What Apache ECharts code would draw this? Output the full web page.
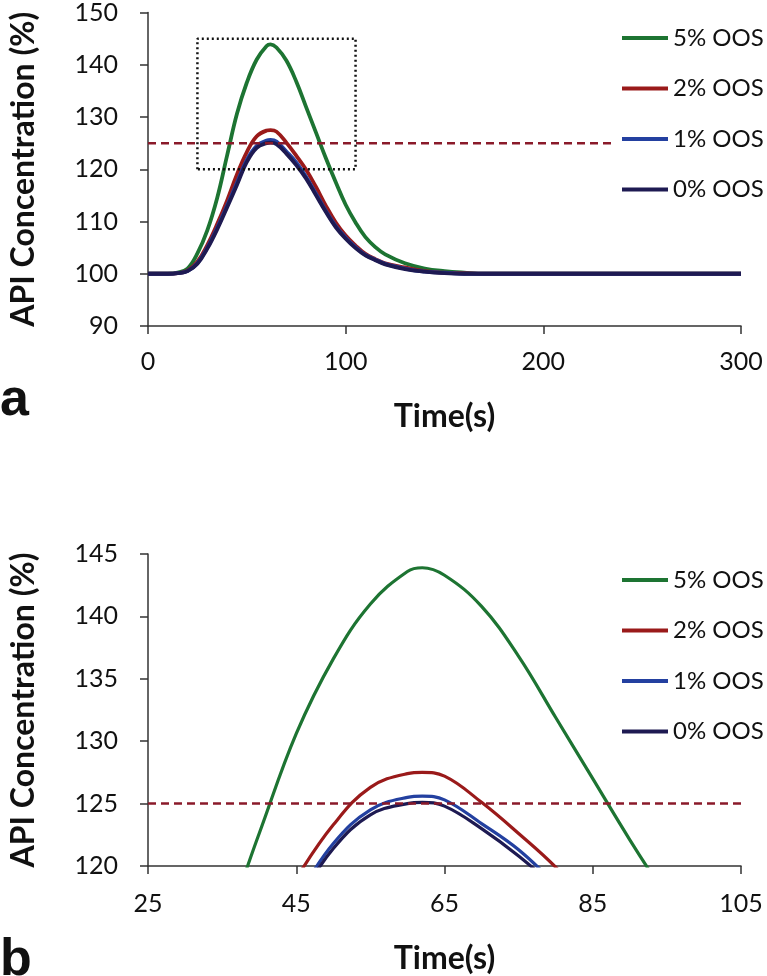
<!DOCTYPE html>
<html>
<head>
<meta charset="utf-8">
<script src="https://cdn.jsdelivr.net/npm/echarts@6/dist/echarts.min.js"></script>
<style>
html,body{margin:0;padding:0;background:#fff;}
#chart{width:767px;height:976px;}
</style>
</head>
<body>
<div id="chart"></div>
<script>
// ---- data ----
const seriesNames = ['5% OOS', '2% OOS', '1% OOS', '0% OOS'];
const time = [0,10,15,20,25,30,35,40,45,50,55,60,62,65,70,75,80,85,90,95,100,105,110,115,120,130,140,150,160,170,200,250,300];
const oos5 = [100,100,100.2,101,103.9,108.3,114.5,122.6,130.6,136.6,141,143.6,143.9,143.3,140.8,136.8,131.9,127,122.1,117.5,113.2,109.8,107,105.1,103.7,102,101,100.5,100.2,100,100,100,100];
const oos2 = [100,100,100.1,100.6,102.3,105.5,109.5,114,119,123.3,126.3,127.4,127.5,127.2,125.1,122.6,119.9,116.6,113,109.8,107.3,105.4,103.8,102.8,102,101.2,100.5,100.2,100.1,100,100,100,100];
const oos1 = [100,100,100.1,100.5,102,105,108.8,113,117.4,121.8,124.5,125.5,125.6,125.3,123.4,121.3,118.5,115.3,112,109.1,106.9,105.1,103.6,102.7,101.9,101,100.4,100.2,100,100,100,100,100];
const oos0 = [100,100,100.1,100.5,101.9,104.8,108.5,112.7,117,121.4,124.1,125,125.1,124.8,123,120.8,118.2,115,111.8,108.9,106.7,104.9,103.5,102.6,101.8,100.9,100.4,100.1,100,100,100,100,100];
const limitValue = 125;
const limitXTop = [0, 235];
const limitXBottom = [25, 105];
const zoomX = [25, 105];
const zoomY = [120, 145];
const topXTicks = [0, 100, 200, 300];
const topYTicks = [90, 100, 110, 120, 130, 140, 150];
const bottomXTicks = [25, 45, 65, 85, 105];
const bottomYTicks = [120, 125, 130, 135, 140, 145];

// ---- styles ----
const colors = ['#1d7432', '#9a1a1a', '#2340a0', '#1e1a52'];
const FONT = 'Lato';
const values = [oos5, oos2, oos1, oos0];

function pairs(xs, ys) { return xs.map((x, i) => [x, ys[i]]); }

const axisLineStyle = { show: true, lineStyle: { color: '#333', width: 1.5 } };
const tickStyle = { show: true, length: 8, lineStyle: { color: '#333', width: 1.5 } };

function makeX(gridIndex, ticks, margin, nameGap) {
  return {
    type: 'value', gridIndex, min: ticks[0], max: ticks[ticks.length - 1],
    name: 'Time(s)', nameLocation: 'middle', nameGap,
    nameTextStyle: { fontFamily: FONT, fontWeight: 'bold', fontSize: 32, color: '#111', verticalAlign: 'top' },
    axisLine: axisLineStyle,
    axisTick: Object.assign({ customValues: ticks }, tickStyle),
    axisLabel: { customValues: ticks, fontFamily: FONT, fontSize: 25, color: '#111', margin },
    splitLine: { show: false }
  };
}
function makeY(gridIndex, ticks, interval) {
  return {
    type: 'value', gridIndex, min: ticks[0], max: ticks[ticks.length - 1], interval,
    name: 'API Concentration (%)', nameLocation: 'middle', nameGap: 108,
    nameTextStyle: { fontFamily: FONT, fontWeight: 'bold', fontSize: 32, color: '#111' },
    axisLine: axisLineStyle,
    axisTick: tickStyle,
    axisLabel: { fontFamily: FONT, fontSize: 25, color: '#111', margin: 30 },
    splitLine: { show: false }
  };
}

const series = [];
[0, 1].forEach(g => {
  seriesNames.forEach((name, i) => {
    series.push({
      name, type: 'line', xAxisIndex: g, yAxisIndex: g,
      data: pairs(time, values[i]),
      smooth: 0.4,
      showSymbol: false, symbol: 'none',
      lineStyle: { color: colors[i], width: g === 0 ? 3.8 : 3.2 },
      itemStyle: { color: colors[i] },
      clip: true, z: 2 + i
    });
  });
  const lx = g === 0 ? limitXTop : limitXBottom;
  series.push({
    name: 'limit', type: 'line', xAxisIndex: g, yAxisIndex: g,
    data: lx.map(x => [x, limitValue]),
    showSymbol: false, symbol: 'none',
    lineStyle: { color: '#8a1a2a', width: 2.5, type: [8, 5] },
    z: 10, silent: true
  });
});
series.push({
  name: 'zoom', type: 'line', xAxisIndex: 0, yAxisIndex: 0,
  data: [[zoomX[0], zoomY[0]], [zoomX[0], zoomY[1]], [zoomX[1], zoomY[1]], [zoomX[1], zoomY[0]], [zoomX[0], zoomY[0]]],
  showSymbol: false, symbol: 'none',
  lineStyle: { color: '#111', width: 2.5, type: [2, 3] },
  z: 11, silent: true
});

function legend(top) {
  return {
    data: seriesNames, orient: 'vertical', left: 617, top,
    icon: 'rect', itemWidth: 46, itemHeight: 4, itemGap: 22.5,
    textStyle: { fontFamily: FONT, fontSize: 24, color: '#111', lineHeight: 28 },
    selectedMode: false
  };
}

const option = {
  backgroundColor: '#fff',
  animation: false,
  grid: [
    { left: 144, top: 12, width: 597, height: 314 },
    { left: 145, top: 554, width: 596, height: 313 }
  ],
  xAxis: [makeX(0, topXTicks, 23, 75), makeX(1, bottomXTicks, 25, 77)],
  yAxis: [makeY(0, topYTicks, 10), makeY(1, bottomYTicks, 5)],
  legend: [legend(19), legend(561)],
  graphic: [
    { type: 'text', x: 0, y: 401, style: { text: 'a', font: 'bold 52px "Liberation Sans"', fill: '#111', verticalAlign: 'middle' } },
    { type: 'text', x: 0, y: 961, style: { text: 'b', font: 'bold 52px "Liberation Sans"', fill: '#111', verticalAlign: 'middle' } }
  ],
  series
};

const chart = echarts.init(document.getElementById('chart'), null, { renderer: 'canvas' });
chart.setOption(option);
</script>
</body>
</html>
